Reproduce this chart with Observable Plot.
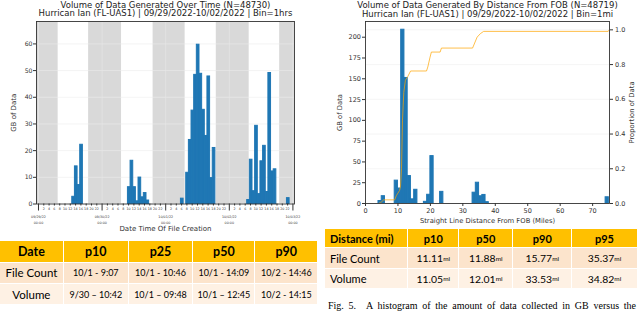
<!DOCTYPE html>
<html><head><meta charset="utf-8">
<script src="https://cdn.jsdelivr.net/npm/d3@7"></script>
<script src="https://cdn.jsdelivr.net/npm/@observablehq/plot@0.6"></script>
<style>
html,body{margin:0;padding:0;background:#fff;width:640px;height:311px;overflow:hidden;position:relative;}
.abs{position:absolute;}
.grid{position:absolute;display:grid;gap:1px;background:#fff;}
.cell{display:flex;align-items:center;justify-content:center;font-family:Lato,"Open Sans",sans-serif;color:#000;white-space:nowrap;overflow:hidden;}
.hd{background:#ffc000;font-weight:bold;}
.r1{background:#fce4cc;}
.r2{background:#fef1e4;}
.lt .hd{font-size:12.5px;}
.lt .lab{font-size:11.5px;}
.lt .val{font-size:9px;}
.rt .hd{font-size:11px;}
.rt .lab{font-size:11px;justify-content:flex-start;padding-left:5px;}
.rt .val{font-size:10.4px;}
.rt .hd.first{justify-content:flex-start;padding-left:5px;}
.mi{font-size:6.5px;}
#cap{left:328px;top:300.8px;width:308px;font:10px "Liberation Serif",serif;line-height:10px;text-align:justify;text-align-last:justify;color:#000;}
</style></head><body>
<div id="left" class="abs" style="left:0;top:0"></div>
<div id="right" class="abs" style="left:320px;top:0"></div>
<div id="ltab" class="grid lt" style="left:0;top:241px;grid-template-columns:62.8px 64px 63.4px 61.3px 61.7px;grid-template-rows:20.7px 20.4px 20.2px;"></div>
<div id="rtab" class="grid rt" style="left:325px;top:229px;grid-template-columns:82.3px 50px 53px 58px 64.4px;grid-template-rows:18.3px 20px 19px;"></div>
<div id="cap" class="abs">Fig. 5.&emsp;A histogram of the amount of data collected in GB versus the</div>
<script>
// ---------- Left chart data (hourly bins, GB) ----------
const leftTitle = ["Volume of Data Generated Over Time (N=48730)", "Hurrican Ian (FL-UAS1) | 09/29/2022-10/02/2022 | Bin=1hrs"];
const timeBins = [
  "2022-09-29T12:45Z","2022-09-29T13:45Z","2022-09-29T14:45Z","2022-09-29T15:45Z",
  "2022-09-30T09:45Z","2022-09-30T10:45Z","2022-09-30T11:45Z","2022-09-30T12:45Z","2022-09-30T13:45Z","2022-09-30T14:45Z","2022-09-30T15:45Z","2022-09-30T16:45Z",
  "2022-10-01T05:45Z","2022-10-01T07:45Z","2022-10-01T08:45Z","2022-10-01T09:45Z","2022-10-01T10:45Z","2022-10-01T11:45Z","2022-10-01T12:45Z","2022-10-01T13:45Z","2022-10-01T14:45Z","2022-10-01T15:45Z","2022-10-01T16:45Z","2022-10-01T17:45Z",
  "2022-10-02T06:45Z","2022-10-02T07:45Z","2022-10-02T08:45Z","2022-10-02T09:45Z","2022-10-02T10:45Z","2022-10-02T11:45Z","2022-10-02T12:45Z","2022-10-02T13:45Z","2022-10-02T14:45Z","2022-10-02T15:45Z","2022-10-02T16:45Z","2022-10-02T21:45Z"
];
const timeGB = [
  2.7, 14.1, 7.1, 22.2,
  6.3, 16.2, 6.3, 1.0, 9.9, 2.5, 4.1, 1.3,
  2.0, 11.7, 24, 35, 48.4, 59.7, 48.8, 35.3, 25.5, 47.8, 9.7, 21,
  1.5, 16.6, 4.8, 29.3, 3.7, 16, 21.8, 4.5, 49.1, 12.2, 13, 2.2
];
const nightStart = ["2022-09-28T20:00Z","2022-09-29T18:55Z","2022-09-30T19:15Z","2022-10-01T19:05Z","2022-10-02T19:00Z"];
const nightEnd   = ["2022-09-29T07:25Z","2022-09-30T07:20Z","2022-10-01T07:20Z","2022-10-02T07:30Z","2022-10-03T04:00Z"];
const dayTicks = ["2022-09-29T00:00Z","2022-09-30T00:00Z","2022-10-01T00:00Z","2022-10-02T00:00Z","2022-10-03T00:00Z"];
const gbTicksL = [0,10,20,30,40,50,60];
const xDomainL = ["2022-09-28T23:15Z","2022-10-03T00:36Z"];
const yMaxL = 68.4;

// ---------- Right chart data (1-mile bins, GB) ----------
const rightTitle = ["Volume of Data Generated By Distance From FOB (N=48719)", "Hurrican Ian (FL-UAS1) | 09/29/2022-10/02/2022 | Bin=1mi"];
const distBins = [4,5,9,10,11,12,13,14,15,18,19,20,23,33,34,35,36,37,74];
const distGB   = [3,8.8,27.5,18,209,151,33,5,16.5,2,10.5,57,14,13,25,8.7,10.3,1.6,7.5];
const cdfMi = [4.0,4.6,5.0,5.6,9.0,9.5,10.0,10.5,10.8,11.1,11.4,11.8,12.3,13.0,13.9,18.8,19.2,19.9,20.3,23.0,23.4,33.0,34.4,35.4,36.4,74.8,75.1];
const cdfP  = [0.0,0.006,0.01,0.021,0.021,0.045,0.06,0.075,0.10,0.2,0.48,0.64,0.71,0.73,0.763,0.763,0.786,0.843,0.872,0.872,0.895,0.895,0.958,0.978,0.991,0.991,1.0];
const gbTicksR = [0,25,50,75,100,125,150,175,200];
const propTicks = [0,0.2,0.4,0.6,0.8,1.0];
const distTicks = [0,10,20,30,40,50,60,70];
const xDomainR = [0,75.2];
const yMaxR = 218.9;
const propMax = 1.048;

// ---------- Tables ----------
const leftHeader = ["Date","p10","p25","p50","p90"];
const leftRowLabels = ["File Count","Volume"];
const leftRowValues = [["10/1 - 9:07","10/1 - 10:46","10/1 - 14:09","10/2 - 14:46"],["9/30 \u2013 10:42","10/1 \u2013 09:48","10/1 \u2013 12:45","10/2 - 14:15"]];
const rightHeader = ["Distance (mi)","p10","p50","p90","p95"];
const rightRowLabels = ["File Count","Volume"];
const rightRowValues = [["11.11","11.88","15.77","35.37"],["11.05","12.01","33.53","34.82"]];

// ---------- Build left chart ----------
const timeData = timeBins.map((t,i)=>({t:new Date(t), v:timeGB[i]}));
const nights = nightStart.map((s,i)=>({a:new Date(s), b:new Date(nightEnd[i])}));
const days = dayTicks.map(d=>new Date(d));
const minorTicks = d3.utcHour.every(2).range(days[0], days[days.length-1]).filter(d=>d.getUTCHours()!==0);

const leftPlot = Plot.plot({
  width: 320, height: 240,
  marginLeft: 36, marginRight: 26, marginTop: 21, marginBottom: 36.5,
  style: {fontFamily: "DejaVu Sans", color: "#333", background: "transparent", overflow: "visible"},
  x: {type: "utc", domain: xDomainL.map(d=>new Date(d)), label: null},
  y: {domain: [0, yMaxL], label: null},
  marks: [
    Plot.rect(nights, {x1: "a", x2: "b", fill: "#d9d9d9", clip: true}),
    Plot.ruleY(gbTicksL.slice(1), {stroke: "#ececec", strokeWidth: 0.6}),
    Plot.ruleX(days, {stroke: "#e6e6e6", strokeWidth: 0.7}),
    Plot.rectY(timeData, {x1: "t", x2: d => d3.utcHour.offset(d.t, 1), y: "v", fill: "#1f77b4", stroke: "#1f77b4", strokeWidth: 1, inset: 0}),
    Plot.frame({stroke: "#333", strokeWidth: 0.9}),
    Plot.axisY(gbTicksL, {tickSize: 3, tickPadding: 1, fontSize: 6.2, label: null}),
    Plot.axisX(minorTicks, {tickSize: 2, tickPadding: 1.5, fontSize: 3.3, tickFormat: d => String(d.getUTCHours()), label: null}),
    Plot.axisX(days, {tickSize: 7, tickPadding: 3.5, fontSize: 3.3, lineHeight: 1.6, tickFormat: d3.utcFormat("%m/%d/%y\n%H:%M"), label: null}),
    Plot.text([leftTitle[0]], {text: d=>d, frameAnchor: "top", dy: -16.5, fontSize: 8.5, lineAnchor: "middle", textAnchor: "middle", fill: "#222"}),
    Plot.text([leftTitle[1]], {text: d=>d, frameAnchor: "top", dy: -7.8, fontSize: 8.5, lineAnchor: "middle", textAnchor: "middle", fill: "#222"}),
    Plot.text(["GB of Data"], {text: d=>d, frameAnchor: "left", dx: -22.5, rotate: -90, fontSize: 7, lineAnchor: "middle", textAnchor: "middle"}),
    Plot.text(["Date Time Of File Creation"], {text: d=>d, frameAnchor: "bottom", dy: 25, fontSize: 7, lineAnchor: "middle", textAnchor: "middle"})
  ]
});
document.getElementById("left").appendChild(leftPlot);

// ---------- Build right chart ----------
const K = yMaxR / propMax;
const distData = distBins.map((d,i)=>({d, v:distGB[i]}));
const cdfData = cdfMi.map((m,i)=>({m, p:cdfP[i]}));

const rightPlot = Plot.plot({
  width: 320, height: 228,
  marginLeft: 45, marginRight: 31, marginTop: 21, marginBottom: 25,
  style: {fontFamily: "DejaVu Sans", color: "#333", background: "transparent", overflow: "visible"},
  x: {domain: xDomainR, label: null},
  y: {domain: [0, yMaxR], label: null},
  marks: [
    Plot.ruleY(propTicks.slice(1), {y: p => p*K, stroke: "#efefef", strokeWidth: 0.6}),
    Plot.rectY(distData, {x1: "d", x2: d => d.d + 1, y: "v", fill: "#1f77b4", stroke: "#1f77b4", strokeWidth: 1, inset: 0, clip: true}),
    Plot.line(cdfData, {x: "m", y: d => d.p*K, stroke: "#ffa500", strokeOpacity: 0.7, strokeWidth: 1, clip: true}),
    Plot.frame({stroke: "#333", strokeWidth: 0.9}),
    Plot.axisY(gbTicksR, {anchor: "left", tickSize: 3, tickPadding: 1.5, fontSize: 6.5, label: null}),
    Plot.axisY(propTicks.map(p => p*K), {anchor: "right", tickSize: 3, tickPadding: 2.5, fontSize: 6.5, tickFormat: d => d3.format(".1f")(d/K), label: null}),
    Plot.axisX(distTicks, {tickSize: 3, tickPadding: 2, fontSize: 6.5, label: null}),
    Plot.text([rightTitle[0]], {text: d=>d, frameAnchor: "top", dy: -16.3, fontSize: 8.5, lineAnchor: "middle", textAnchor: "middle", fill: "#222"}),
    Plot.text([rightTitle[1]], {text: d=>d, frameAnchor: "top", dy: -7.7, fontSize: 8.5, lineAnchor: "middle", textAnchor: "middle", fill: "#222"}),
    Plot.text(["GB of Data"], {text: d=>d, frameAnchor: "left", dx: -25.3, rotate: -90, fontSize: 6.8, lineAnchor: "middle", textAnchor: "middle"}),
    Plot.text(["Proportion of Data"], {text: d=>d, frameAnchor: "right", dx: 22, rotate: -90, fontSize: 6.8, lineAnchor: "middle", textAnchor: "middle"}),
    Plot.text(["Straight Line Distance From FOB (Miles)"], {text: d=>d, frameAnchor: "bottom", dy: 17, fontSize: 6.8, lineAnchor: "middle", textAnchor: "middle"})
  ]
});
document.getElementById("right").appendChild(rightPlot);

// ---------- Tables ----------
function cell(parent, cls, html){ const c=document.createElement("div"); c.className="cell "+cls; c.innerHTML=html; parent.appendChild(c); }
const lt = document.getElementById("ltab");
leftHeader.forEach(h=>cell(lt,"hd",h));
leftRowLabels.forEach((lab,i)=>{
  const rc = i===0?"r1":"r2";
  cell(lt, rc+" lab", lab);
  leftRowValues[i].forEach(v=>cell(lt, rc+" val", v));
});
const rt = document.getElementById("rtab");
rightHeader.forEach((h,i)=>cell(rt, "hd"+(i===0?" first":""), h));
rightRowLabels.forEach((lab,i)=>{
  const rc = i===0?"r1":"r2";
  cell(rt, rc+" lab", lab);
  rightRowValues[i].forEach(v=>cell(rt, rc+" val", v+'<span class="mi">mi</span>'));
});
</script>
</body></html>
